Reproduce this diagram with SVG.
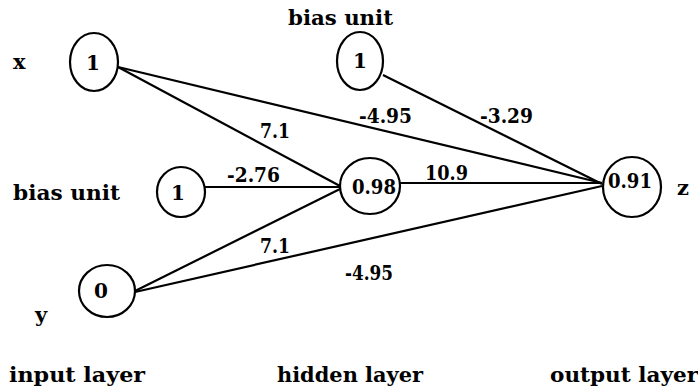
<svg xmlns="http://www.w3.org/2000/svg" width="698" height="392" viewBox="0 0 698 392">
<style>
.n{fill:#fff;stroke:#000;stroke-width:2.2}
.e{stroke:#000;stroke-width:2.2;fill:none}
text{font-family:"DejaVu Serif","Liberation Serif",serif;font-weight:bold;fill:#000}
.v{font-size:20px;text-anchor:middle}
.w{font-size:20px}
.l{font-size:21px}
</style>
<rect width="698" height="392" fill="#fff"/>
<g id="connectors">
<line class="e" x1="118" y1="67" x2="340" y2="186"/>
<line class="e" x1="118" y1="67" x2="602" y2="183"/>
<line class="e" x1="383" y1="75" x2="602" y2="184"/>
<line class="e" x1="205" y1="187" x2="340" y2="187"/>
<line class="e" x1="135" y1="291" x2="340" y2="189"/>
<line class="e" x1="135" y1="292" x2="602" y2="186"/>
<line class="e" x1="400" y1="183" x2="602" y2="183"/>
</g>
<g id="weights">
<text class="w" x="260" y="138" textLength="30" lengthAdjust="spacingAndGlyphs">7.1</text>
<text class="w" x="359" y="123" textLength="53" lengthAdjust="spacingAndGlyphs">-4.95</text>
<text class="w" x="480" y="123" textLength="53" lengthAdjust="spacingAndGlyphs">-3.29</text>
<text class="w" x="227" y="182" textLength="53" lengthAdjust="spacingAndGlyphs">-2.76</text>
<text class="w" x="425" y="180" textLength="43" lengthAdjust="spacingAndGlyphs">10.9</text>
<text class="w" x="260" y="253" textLength="30" lengthAdjust="spacingAndGlyphs">7.1</text>
<text class="w" x="345" y="280" textLength="48" lengthAdjust="spacingAndGlyphs">-4.95</text>
</g>
<g id="node-x">
<ellipse class="n" cx="94" cy="62" rx="24" ry="29"/>
<text class="v" x="93" y="70">1</text>
</g>
<g id="node-bias-top">
<ellipse class="n" cx="360" cy="61" rx="23" ry="29"/>
<text class="v" x="360" y="68">1</text>
</g>
<g id="node-bias-left">
<ellipse class="n" cx="181" cy="192" rx="24" ry="25"/>
<text class="v" x="178" y="200">1</text>
</g>
<g id="node-hidden">
<ellipse class="n" cx="370" cy="186" rx="30" ry="28"/>
<text class="v" x="374" y="194" textLength="44" lengthAdjust="spacingAndGlyphs">0.98</text>
</g>
<g id="node-output">
<ellipse class="n" cx="632" cy="187" rx="29" ry="30"/>
<text class="v" x="630" y="188" textLength="44" lengthAdjust="spacingAndGlyphs">0.91</text>
</g>
<g id="node-y">
<ellipse class="n" cx="107" cy="291" rx="28" ry="26"/>
<text class="v" x="101" y="298">0</text>
</g>
<g id="labels">
<text class="l" x="13" y="69">x</text>
<text class="l" x="288" y="25" textLength="105" lengthAdjust="spacingAndGlyphs">bias unit</text>
<text class="l" x="13" y="200" textLength="107" lengthAdjust="spacingAndGlyphs">bias unit</text>
<text class="l" x="677" y="195">z</text>
<text class="l" x="35" y="322">y</text>
<text class="l" x="9" y="382" textLength="136" lengthAdjust="spacingAndGlyphs">input layer</text>
<text class="l" x="277" y="382" textLength="146" lengthAdjust="spacingAndGlyphs">hidden layer</text>
<text class="l" x="550" y="382" textLength="148" lengthAdjust="spacingAndGlyphs">output layer</text>
</g>
</svg>
